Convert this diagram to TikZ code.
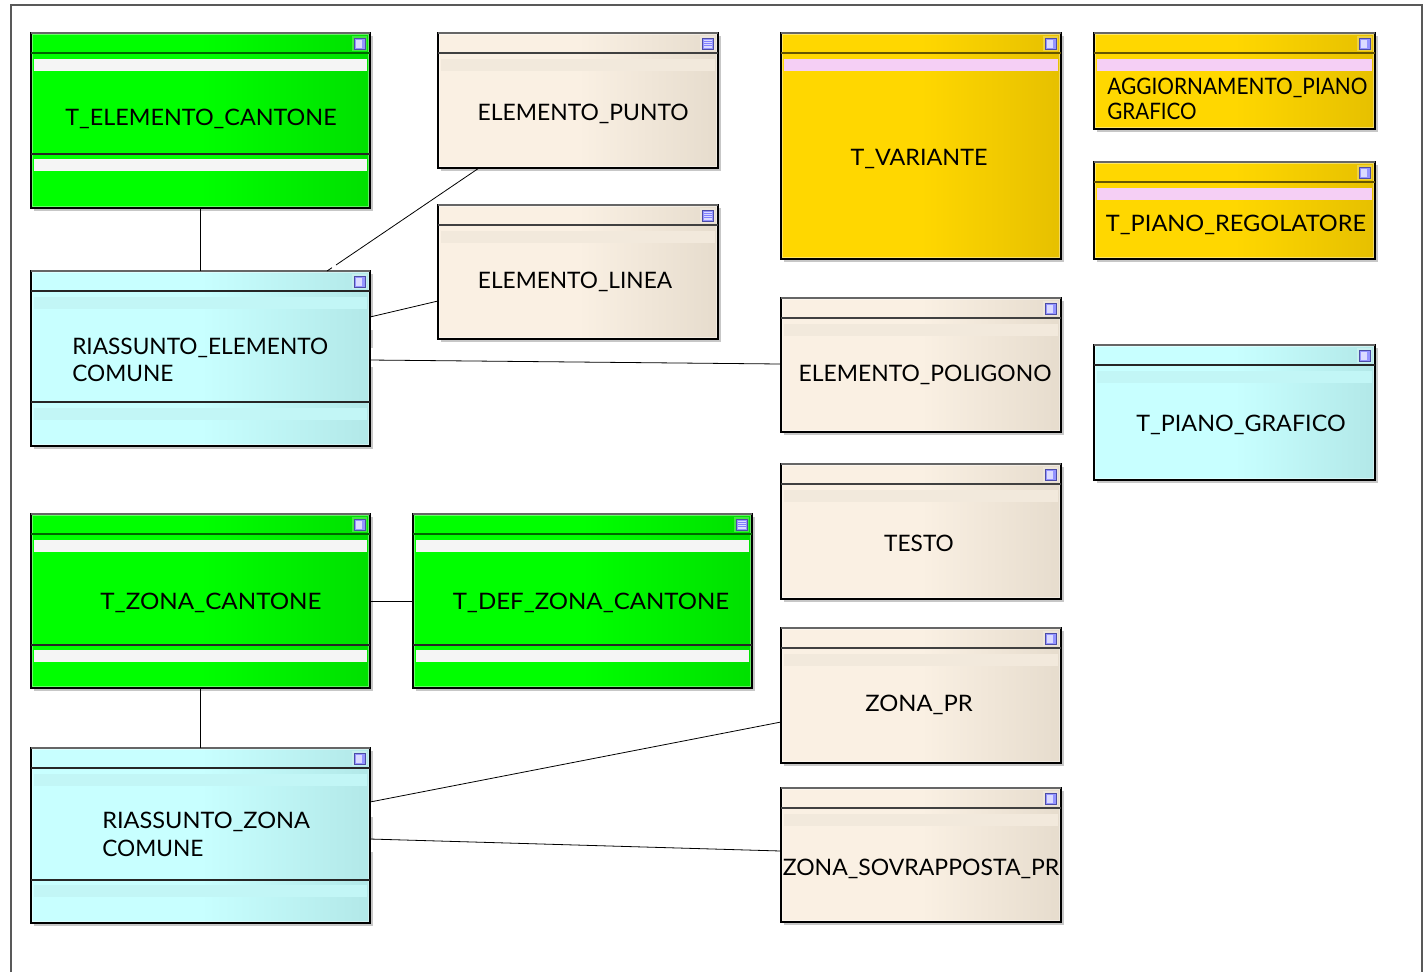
\documentclass[tikz,border=0pt]{standalone}
\usepackage{fontspec}
\setmainfont{Lato}
\usetikzlibrary{calc}
\definecolor{g1}{HTML}{00FF00}\definecolor{g2}{HTML}{00E000}
\definecolor{c1}{HTML}{C8FFFF}\definecolor{c2}{HTML}{B2E8E8}
\definecolor{y1}{HTML}{FFD700}\definecolor{y2}{HTML}{E6C000}
\definecolor{e1}{HTML}{FAF0E3}\definecolor{e2}{HTML}{E6DCCD}
\pgfdeclarehorizontalshading{sg}{100bp}{color(0bp)=(g1);color(50bp)=(g1);color(75bp)=(g2);color(100bp)=(g2)}
\pgfdeclarehorizontalshading{sc}{100bp}{color(0bp)=(c1);color(50bp)=(c1);color(75bp)=(c2);color(100bp)=(c2)}
\pgfdeclarehorizontalshading{sy}{100bp}{color(0bp)=(y1);color(50bp)=(y1);color(75bp)=(y2);color(100bp)=(y2)}
\pgfdeclarehorizontalshading{se}{100bp}{color(0bp)=(e1);color(50bp)=(e1);color(75bp)=(e2);color(100bp)=(e2)}
\tikzset{
  x=0.75pt,y=-0.75pt,
  boxbase/.style={draw=black,line width=0.8pt,inner sep=0pt,outer sep=0pt},
  greenbox/.style={boxbase,shading=sg},
  cyanbox/.style={boxbase,shading=sc},
  goldbox/.style={boxbase,shading=sy},
  creambox/.style={boxbase,shading=se},
  shadowfill/.style={fill=black!22,draw=none},
  lbl/.style={font=\fontsize{17}{20.5}\selectfont,text=black,inner sep=0pt},
  lblL/.style={lbl,align=left,anchor=west},
  wire/.style={draw=black,line width=0.6pt},
  frameline/.style={draw=black!65,line width=1pt},
  gapfill/.style={fill=white,draw=none},
  iconframe/.style={draw=blue!50!black!70!white,line width=0.7pt,fill=blue!42!white},
  iconpane/.style={fill=blue!14!white,draw=none},
  iconrule/.style={draw=blue!50!white,line width=0.5pt},
}
% #1 name, #2 x1, #3 y1, #4 x2, #5 y2, #6 style, #7 header colour, #8 band colour
\newcommand{\umlbox}[8]{%
  \fill[shadowfill] (#2+3,#3+3) rectangle (#4+3,#5+3);
  \pgfmathsetmacro{\boxw}{(#4-#2)*0.75}\pgfmathsetmacro{\boxh}{(#5-#3)*0.75}
  \node[#6,minimum width=\boxw pt,minimum height=\boxh pt] (#1) at ({(#2+#4)/2},{(#3+#5)/2}) {};
  \draw[white,opacity=0.4,line width=0.6pt] (#2+1.5,#3+1.5) rectangle (#4-1.5,#5-1.5);
  \draw[black!60,line width=0.9pt] (#2,#3) -- (#4,#3);
  \draw[#7,line width=1pt] (#2,#3+20) -- (#4,#3+20);
  \fill[#8] (#2+3,#3+26) rectangle (#4-3,#3+38);
  \fill[white,opacity=0.25] (#4-18,#3+3) rectangle (#4-3,#3+18);
  \draw[iconframe] (#4-16,#3+5) rectangle (#4-5,#3+16);
  \fill[iconpane] (#4-14,#3+6.5) rectangle (#4-8,#3+14.5);
}
% table-style icon marks for box ending at x=#1, y=#2
\newcommand{\listicon}[2]{%
  \fill[iconpane] (#1-14,#2+6.5) rectangle (#1-6.5,#2+14.5);
  \foreach \k in {8.5,10.5,12.5}{\draw[iconrule] (#1-14,#2+\k) -- (#1-6.5,#2+\k);}
}
\begin{document}
\begin{tikzpicture}
\useasboundingbox (0,0) rectangle (1426,972);
\fill[white] (0,0) rectangle (1426,972);
\coordinate (fbl) at (11,972);\coordinate (ftl) at (11,5);\coordinate (ftr) at (1422,5);\coordinate (fbr) at (1422,972);
\draw[frameline] (fbl) -- (ftl) -- (ftr) -- (fbr);

\colorlet{hg}{black!60!g1}\colorlet{hc}{black!85}\colorlet{hy}{black!60!y1}\colorlet{he}{black!75}
\colorlet{bg}{white!96!black}\definecolor{bc}{HTML}{C2F6F6}\definecolor{by}{HTML}{F5CFF5}\definecolor{be}{HTML}{F2E9DC}

\umlbox{ec}{31}{33}{370}{208}{greenbox}{hg}{bg}
\draw[hc,line width=1pt] (31,154) -- (370,154); \fill[bg] (34,159) rectangle (367,171);
\umlbox{re}{31}{271}{370}{446}{cyanbox}{hc}{bc}
\draw[hc,line width=1pt] (31,402) -- (370,402); \fill[bc] (34,408) rectangle (367,420);
\umlbox{ep}{438}{33}{718}{168}{creambox}{he}{be}
\listicon{718}{33}
\umlbox{el}{438}{205}{718}{339}{creambox}{he}{be}
\listicon{718}{205}
\umlbox{tv}{781}{33}{1061}{259}{goldbox}{hy}{by}
\umlbox{ag}{1094}{33}{1375}{129}{goldbox}{hy}{by}
\umlbox{tr}{1094}{162}{1375}{259}{goldbox}{hy}{by}
\umlbox{po}{781}{298}{1061}{432}{creambox}{he}{be}
\umlbox{pg}{1094}{345}{1375}{480}{cyanbox}{hc}{bc}
\umlbox{te}{781}{464}{1061}{599}{creambox}{he}{be}
\umlbox{zp}{781}{628}{1061}{763}{creambox}{he}{be}
\umlbox{zs}{781}{788}{1061}{922}{creambox}{he}{be}
\umlbox{zc}{31}{514}{370}{688}{greenbox}{hg}{bg}
\draw[hc,line width=1pt] (31,645) -- (370,645); \fill[bg] (34,650) rectangle (367,662);
\umlbox{dz}{413}{514}{752}{688}{greenbox}{hg}{bg}
\listicon{752}{514}
\draw[hc,line width=1pt] (413,645) -- (752,645); \fill[bg] (416,650) rectangle (749,662);
\umlbox{rz}{31}{748}{370}{923}{cyanbox}{hc}{bc}
\draw[hc,line width=1pt] (31,880) -- (370,880); \fill[bc] (34,885) rectangle (367,897);

% breaks in the shadow beside the connector ends
\fill[gapfill] (371,317) rectangle (374,330);
\fill[gapfill] (371,348) rectangle (374,367);
\fill[gapfill] (371,802) rectangle (374,817);
\fill[gapfill] (371,840) rectangle (374,852);

\node[lbl] (tec) at (201,119) {\scalebox{1.03}[1]{T\_ELEMENTO\_CANTONE}};
\node[lblL] (tre) at (72,360) {RIASSUNTO\_ELEMENTO\\COMUNE};
\node[lbl] (tep) at (583,114) {\scalebox{1.01}[1]{ELEMENTO\_PUNTO}};
\node[lbl] (tel) at (575,282) {ELEMENTO\_LINEA};
\node[lbl] (ttv) at (919,159) {\scalebox{1.03}[1]{T\_VARIANTE}};
\node[lblL] (tag) at (1107,99) {\scalebox{.92}[1]{AGGIORNAMENTO\_PIANO}\\[-2.25pt]\scalebox{.91}[1]{GRAFICO}};
\node[lbl] (ttr) at (1236,225) {\scalebox{1.04}[1]{T\_PIANO\_REGOLATORE}};
\node[lbl] (tpo) at (925,375) {\scalebox{1.01}[1]{ELEMENTO\_POLIGONO}};
\node[lbl] (tpg) at (1241,425) {\scalebox{1.03}[1]{T\_PIANO\_GRAFICO}};
\node[lbl] (tte) at (919,543) {TESTO};
\node[lbl] (tzp) at (919,705) {\scalebox{1.05}[1]{ZONA\_PR}};
\node[lbl] (tzs) at (921,869) {\scalebox{1.015}[1]{ZONA\_SOVRAPPOSTA\_PR}};
\node[lbl] (tzc) at (211,603) {\scalebox{1.067}[1]{T\_ZONA\_CANTONE}};
\node[lbl] (tdz) at (591,603) {\scalebox{1.06}[1]{T\_DEF\_ZONA\_CANTONE}};
\node[lblL] (trz) at (102,834.5) {\scalebox{1.04}[1]{RIASSUNTO\_ZONA}\\COMUNE};

\draw[wire] (ec.south) -- (re.north);
\draw[wire] (zc.south) -- (rz.north);
\draw[wire] (zc.east) -- (dz.west);
\coordinate (a1) at (479,168);\coordinate (a2) at (336,265);\coordinate (a3) at (332,267.7);\coordinate (a4) at (327,271);
\coordinate (b1) at (370,317);\coordinate (b2) at (438,301);
\coordinate (c1p) at (370,360);\coordinate (c2p) at (781,364);
\coordinate (d1) at (370,802);\coordinate (d2) at (781,722);
\coordinate (e1p) at (370,839);\coordinate (e2p) at (781,851);
\draw[wire] (a1) -- (a2);
\draw[wire] (a3) -- (a4);
\draw[wire] (b1) -- (b2);
\draw[wire] (c1p) -- (c2p);
\draw[wire] (d1) -- (d2);
\draw[wire] (e1p) -- (e2p);
\end{tikzpicture}
\end{document}
